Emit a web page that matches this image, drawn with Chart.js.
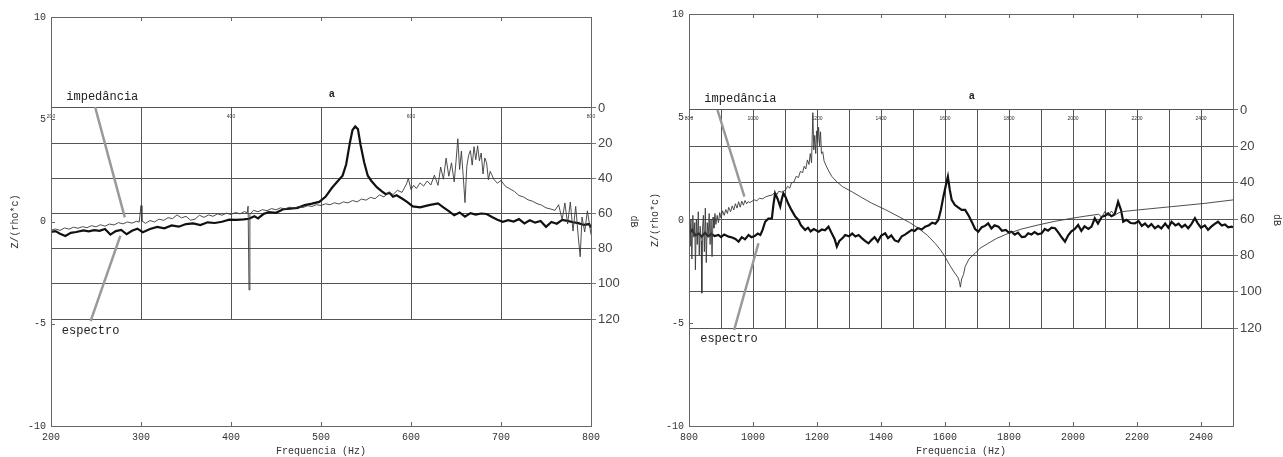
<!DOCTYPE html>
<html>
<head>
<meta charset="utf-8">
<script src="https://cdn.jsdelivr.net/npm/chart.js@4.4.1/dist/chart.umd.min.js"></script>
<style>
  html, body { margin: 0; padding: 0; background: #fff; }
  #wrap { position: relative; width: 1283px; height: 457px; }
  canvas { position: absolute; top: 0; }
</style>
</head>
<body>
<div id="wrap">
  <canvas id="left" width="640" height="457" style="left:0"></canvas>
  <canvas id="right" width="643" height="457" style="left:640px"></canvas>
</div>
<script>
// axis ticks
const zTicks = [-10, -5, 0, 5, 10];
const dbTicks = [0, 20, 40, 60, 80, 100, 120];
const leftFreqTicks = [200, 300, 400, 500, 600, 700, 800];
const leftInnerGrid = [300, 400, 500, 600, 700];
const leftInnerLabels = [200, 400, 600, 800];
const rightFreqTicks = [800, 1000, 1200, 1400, 1600, 1800, 2000, 2200, 2400];
const rightInnerGrid = [900, 1000, 1100, 1200, 1300, 1400, 1500, 1600, 1700, 1800, 1900, 2000, 2100, 2200, 2300, 2400];
const rightInnerLabels = [800, 1000, 1200, 1400, 1600, 1800, 2000, 2200, 2400];

// series: [Hz, dB]
const leftImpedance = [
  [200,69.5],[205,68.8],[210,69.6],[215,68.2],[220,68.9],[225,67.8],[230,68.4],[235,67.5],[240,68.1],[245,66.9],
  [250,67.6],[255,66.4],[260,67.2],[265,66.0],[270,66.5],[275,65.2],[280,65.9],[285,64.8],[290,65.5],[295,64.4],
  [298,64.9],[300,55.5],[301,64.2],[305,65.6],[310,64.0],[315,64.8],[320,63.2],[325,63.9],[330,62.4],[335,62.9],
  [340,60.8],[345,62.5],[350,61.6],[355,63.8],[360,63.2],[365,61.0],[370,62.2],[375,60.8],[380,61.6],[385,60.2],
  [390,61.0],[395,59.8],[400,60.6],[405,59.4],[410,60.2],[415,58.9],[418,59.6],[419,55.8],[420,103.5],[421,60.5],
  [425,58.2],[430,59.0],[435,57.8],[440,58.4],[445,57.2],[450,57.9],[455,56.8],[460,57.5],[465,56.4],[470,57.0],
  [475,56.0],[480,56.6],[485,55.6],[490,56.0],[495,55.0],[500,55.4],[505,54.5],[510,55.0],[515,53.9],[520,54.6],
  [525,53.4],[530,54.0],[535,52.6],[540,53.4],[545,51.8],[550,52.4],[555,50.8],[560,51.6],[565,49.4],[570,50.6],
  [575,47.8],[580,49.2],[585,46.8],[590,48.0],[595,43.2],[597,40.0],[600,46.4],[603,44.0],[606,45.8],[610,42.6],
  [614,44.4],[618,41.5],[622,43.8],[626,38.2],[630,44.0],[633,33.6],[636,40.5],[639,28.5],[642,38.8],[645,31.2],
  [648,42.0],[650,30.5],[652,17.5],[654,35.0],[656,24.5],[658,38.6],[660,53.8],[662,33.2],[664,27.0],[666,24.2],
  [668,32.5],[670,22.0],[672,29.4],[674,21.5],[676,30.0],[678,25.6],[680,37.5],[682,28.4],[684,31.2],[686,40.8],
  [688,36.0],[692,40.5],[696,42.8],[700,41.2],[705,44.6],[710,46.0],[715,47.5],[720,49.8],[725,50.6],[730,52.2],
  [735,53.0],[740,54.4],[745,55.2],[750,56.8],[755,57.4],[760,58.2],[764,55.0],[768,63.5],[771,54.0],[774,66.0],
  [777,53.5],[780,70.0],[783,56.0],[786,74.0],[788,84.6],[790,62.0],[793,70.5],[796,58.5],[800,72.0]
];
const leftSpectrum = [
  [200,70.5],[205,70],[210,71.5],[216,72.8],[222,71],[228,70.5],[236,69.6],[242,70.2],[248,69.5],[254,69.9],
  [260,68.8],[266,72],[272,70],[278,69.3],[284,71.8],[290,69.8],[296,68.6],[302,70.6],[310,68.8],[318,67.6],
  [326,68.4],[334,66.8],[342,67.5],[350,66],[358,65.6],[366,66.6],[374,65],[382,65.4],[390,64.7],[398,63.5],
  [406,63.6],[414,63.3],[420,63],[426,61.5],[430,62.8],[436,60.3],[442,59.2],[450,59.6],[458,57.6],[466,57.2],
  [474,56.8],[482,55.2],[490,54.4],[498,53.4],[505,50.5],[512,45.5],[518,42],[524,38.5],[528,32],[532,20],
  [535,12.5],[538,10.5],[541,12],[544,21],[548,31],[552,38.5],[556,41.5],[562,45],[568,47.5],[572,49],
  [576,48.2],[580,50.5],[584,49.6],[590,51.5],[596,53.5],[602,56],[610,56.5],[620,55.2],[630,54.2],[636,56.5],
  [642,58.6],[648,61],[654,59.4],[660,61.8],[666,59.8],[672,60.6],[678,60],[684,60.3],[690,62],[696,63.5],
  [702,64.7],[708,63.8],[714,64.6],[720,63.2],[726,65.6],[732,63.8],[738,65.2],[744,64.3],[750,67.6],[756,64.8],
  [762,65.8],[768,63.6],[774,64.2],[780,65],[786,65.5],[792,66.5],[798,66],[800,68]
];
const rightImpedance = [
  [800,62.4],[803,75],[806,60],[809,82],[812,58],[815,70],[818,62],[820,88],[823,60],[826,74],
  [829,56],[832,80],[835,64],[838,72],[840,100.8],[842,66],[845,58],[848,78],[851,54],[854,84],
  [857,62],[860,70],[863,57],[866,74],[869,60],[872,80.7],[875,59],[878,65],[881,57],[884,63],
  [888,58],[892,62],[896,56.5],[900,59.5],[905,55.5],[910,58],[915,54.8],[920,57],[924,53.6],[930,56],
  [935,52.8],[940,55],[945,51.6],[950,54],[955,50.5],[960,53.5],[965,50.2],[970,52.4],[975,49.8],[980,51.6],
  [985,50.4],[990,51],[997,50.2],[1005,49.5],[1012,50],[1020,48.6],[1030,48.9],[1040,47.8],[1050,47.2],[1060,46.8],
  [1069,45.2],[1075,46.5],[1080,44.8],[1090,45.2],[1101,44.2],[1108,42],[1115,43],[1120,40.2],[1128,39.6],[1135,36.5],
  [1142,37.2],[1148,33.8],[1155,34.5],[1160,31],[1165,32.5],[1170,27.5],[1175,30],[1179,24],[1183,29],[1187,1.5],
  [1190,22],[1193,14],[1196,24],[1199,11.5],[1202,18],[1205,9.5],[1208,20],[1211,12],[1214,24],[1218,23],
  [1222,28],[1228,30.5],[1235,33],[1246,36.5],[1260,39.2],[1280,42.2],[1309,45],[1340,48.2],[1370,51.2],[1413,54.8],
  [1450,58.2],[1490,62],[1517,65.1],[1545,69],[1569,73.4],[1585,76.8],[1600,80.7],[1615,85.5],[1631,89.9],[1640,92],
  [1645,94.5],[1648,97.5],[1652,93],[1658,90.5],[1663,86.2],[1675,82],[1694,78.9],[1710,76],[1735,73.4],[1760,70.8],
  [1798,67.9],[1840,65.5],[1891,63.3],[1940,61.4],[1996,59.6],[2040,58.4],[2080,57.4],[2090,59],[2100,55.8],[2110,58.2],
  [2120,55.6],[2130,57.8],[2150,56],[2204,55],[2308,53.2],[2412,51.4],[2500,49.5]
];
const rightSpectrum = [
  [800,67.9],[810,66],[820,69],[830,68],[840,69.7],[850,67.5],[860,69.5],[870,68.2],[880,69.4],[892,68.8],
  [900,69.9],[910,68.5],[924,69.7],[935,70.2],[945,71],[955,72.5],[965,70],[975,71.2],[986,68.8],[995,70],
  [1005,69.4],[1015,68],[1023,68.8],[1030,66],[1038,61.5],[1048,59.8],[1059,59.6],[1064,52],[1069,45.9],[1077,49],
  [1085,53.2],[1090,49],[1095,45.9],[1102,48],[1110,51.5],[1120,55],[1132,58.7],[1142,60.5],[1150,63.5],[1163,66],
  [1172,64.8],[1180,66.8],[1190,65.5],[1205,67],[1215,65.8],[1225,66.2],[1236,64.2],[1245,67.5],[1255,71],[1262,75.2],
  [1270,72],[1280,70.5],[1288,68.8],[1300,69.5],[1310,68],[1320,69.6],[1330,68.8],[1340,70.5],[1350,72],[1361,73.4],
  [1370,71.6],[1380,70],[1390,72.5],[1400,69.2],[1413,67.9],[1422,70.5],[1432,69],[1443,71.8],[1454,72.5],[1465,69.5],
  [1475,68.6],[1486,67.2],[1496,66],[1505,66.6],[1515,65],[1527,65.8],[1538,64.2],[1550,63.4],[1560,62],[1570,62.6],
  [1579,60.5],[1587,55],[1595,47.7],[1602,42],[1609,36.7],[1615,44],[1621,49.5],[1631,52.3],[1640,53.5],[1652,55],
  [1663,55],[1675,58.5],[1685,62],[1694,65.5],[1704,67],[1715,64.5],[1725,63.8],[1735,62.4],[1745,65.2],[1755,63.5],
  [1767,64.2],[1778,66.5],[1790,66],[1800,67.6],[1808,67],[1818,68.6],[1828,67.5],[1840,70],[1850,69.7],[1860,67.8],
  [1870,68.5],[1880,67.2],[1890,68.4],[1902,67.9],[1912,65.5],[1922,66.4],[1933,64.8],[1944,65.1],[1955,67.6],[1965,70.2],
  [1975,72.5],[1985,69],[1995,66.8],[2005,65.6],[2016,63.3],[2026,66.5],[2036,64],[2048,65.5],[2058,64.2],[2068,59.6],
  [2078,62.5],[2090,58.8],[2100,58.2],[2110,56.9],[2120,58.5],[2130,57.5],[2141,50.5],[2150,55],[2157,61.5],[2167,60.5],
  [2180,62.2],[2193,62.4],[2205,61.2],[2215,63.8],[2225,62.5],[2235,64.4],[2245,62.8],[2256,65.1],[2266,63.8],[2276,65.2],
  [2288,62.5],[2298,64.8],[2308,61.5],[2320,63.5],[2330,62.6],[2340,64.5],[2350,63.2],[2360,65.1],[2370,62.8],[2381,59.6],
  [2390,62.4],[2400,64.8],[2412,63.5],[2422,66],[2432,64.2],[2442,62.8],[2453,61.5],[2465,63.6],[2475,63],[2485,64.6],
  [2495,64.2],[2500,64.5]
];

const monoFont = '"Liberation Mono", "DejaVu Sans Mono", monospace';
const sansFont = '"Liberation Sans", Arial, sans-serif';

// frame, inner grid, tiny labels, annotations
const panelDecor = {
  id: 'panelDecor',
  beforeDatasetsDraw(chart, args, o) {
    const { ctx, scales: { x, y1 } } = chart;
    const top = y1.getPixelForValue(0), bot = y1.getPixelForValue(120);
    ctx.save();
    ctx.strokeStyle = '#555';
    ctx.lineWidth = 1;
    o.innerGrid.forEach(v => {
      const px = Math.round(x.getPixelForValue(v)) + 0.5;
      ctx.beginPath(); ctx.moveTo(px, top); ctx.lineTo(px, bot); ctx.stroke();
    });
    ctx.fillStyle = '#333';
    ctx.font = '5px ' + sansFont;
    ctx.textAlign = 'center';
    ctx.textBaseline = 'middle';
    o.innerLabels.forEach(v => ctx.fillText(String(v), x.getPixelForValue(v), y1.getPixelForValue(5)));
    ctx.restore();
  },
  afterDatasetsDraw(chart, args, o) {
    const { ctx, chartArea: a, scales: { x, y } } = chart;
    ctx.save();
    // outer frame
    ctx.strokeStyle = '#666';
    ctx.lineWidth = 1;
    ctx.strokeRect(Math.round(a.left) + 0.5, Math.round(a.top) + 0.5, Math.round(a.right - a.left), Math.round(a.bottom - a.top));
    // inward tick marks
    ctx.beginPath();
    o.outerTicks.forEach(v => {
      const px = Math.round(x.getPixelForValue(v)) + 0.5;
      ctx.moveTo(px, a.top); ctx.lineTo(px, a.top + 4);
      ctx.moveTo(px, a.bottom); ctx.lineTo(px, a.bottom - 4);
    });
    zTicks.forEach(v => {
      const py = Math.round(y.getPixelForValue(v)) + 0.5;
      ctx.moveTo(a.left, py); ctx.lineTo(a.left + 4, py);
    });
    ctx.stroke();
    // annotation pointers
    ctx.strokeStyle = '#999';
    ctx.lineWidth = 2.5;
    o.pointers.forEach(p => {
      ctx.beginPath();
      ctx.moveTo(x.getPixelForValue(p[0]), y.getPixelForValue(p[1]));
      ctx.lineTo(x.getPixelForValue(p[2]), y.getPixelForValue(p[3]));
      ctx.stroke();
    });
    ctx.fillStyle = '#222';
    ctx.textAlign = 'left';
    ctx.textBaseline = 'middle';
    ctx.font = '12px ' + monoFont;
    o.labels.forEach(l => ctx.fillText(l.text, x.getPixelForValue(l.hz), y.getPixelForValue(l.z)));
    ctx.font = 'bold 10px ' + sansFont;
    ctx.fillText('a', x.getPixelForValue(o.mark[0]), y.getPixelForValue(o.mark[1]));
    ctx.restore();
  }
};

function makePanel(id, cfg) {
  const tickFont = { family: monoFont, size: 10 };
  new Chart(document.getElementById(id), {
    type: 'line',
    data: {
      datasets: [
        {
          label: 'impedância',
          data: cfg.impedance.map(([hz, db]) => ({ x: hz, y: db })),
          yAxisID: 'y1',
          borderColor: '#3a3a3a',
          borderWidth: 0.9,
          pointRadius: 0,
          tension: 0
        },
        {
          label: 'espectro',
          data: cfg.spectrum.map(([hz, db]) => ({ x: hz, y: db })),
          yAxisID: 'y1',
          borderColor: '#111',
          borderWidth: 2.2,
          pointRadius: 0,
          tension: 0
        }
      ]
    },
    options: {
      responsive: false,
      devicePixelRatio: 1,
      animation: false,
      layout: { padding: { top: cfg.top, left: 0, right: 0, bottom: 0 } },
      plugins: {
        legend: { display: false },
        tooltip: { enabled: false },
        panelDecor: {
          innerGrid: cfg.innerGrid,
          innerLabels: cfg.innerLabels,
          outerTicks: cfg.outerTicks,
          pointers: cfg.pointers,
          labels: cfg.labels,
          mark: cfg.mark
        }
      },
      scales: {
        x: {
          type: 'linear',
          position: 'bottom',
          min: cfg.xMin,
          max: cfg.xMax,
          afterBuildTicks: s => { s.ticks = cfg.freqTicks.map(v => ({ value: v })); },
          afterFit: s => { s.height = 31; },
          grid: { display: false, drawTicks: false },
          border: { display: false },
          ticks: { font: tickFont, color: '#333', padding: 5, maxRotation: 0, callback: v => String(v) },
          title: { display: true, text: 'Frequencia (Hz)', font: tickFont, color: '#333', padding: { top: 0, bottom: 0 } }
        },
        y: {
          type: 'linear',
          position: 'left',
          min: -10,
          max: 10,
          afterBuildTicks: s => { s.ticks = zTicks.map(v => ({ value: v })); },
          afterFit: s => { s.width = cfg.leftWidth; },
          grid: { display: false, drawTicks: false },
          border: { display: false },
          ticks: { font: tickFont, color: '#333', padding: 5, callback: v => String(v) },
          title: { display: true, text: 'Z/(rho*c)', font: tickFont, color: '#333', padding: { top: 9, bottom: 0 } }
        },
        y1: {
          type: 'linear',
          position: 'right',
          reverse: true,
          min: cfg.dbMin,
          max: cfg.dbMax,
          afterBuildTicks: s => { s.ticks = dbTicks.map(v => ({ value: v })); },
          afterFit: s => { s.width = cfg.rightWidth; },
          grid: { drawOnChartArea: true, color: '#555', tickColor: '#777', drawTicks: true, tickLength: 5 },
          border: { display: false },
          ticks: { font: { family: sansFont, size: 13 }, color: '#444', padding: 2, callback: v => String(v) },
          title: { display: true, text: 'dB', font: tickFont, color: '#333', padding: { top: 0, bottom: 0 } }
        }
      }
    },
    plugins: [panelDecor]
  });
}

makePanel('left', {
  impedance: leftImpedance,
  spectrum: leftSpectrum,
  xMin: 200, xMax: 800,
  freqTicks: leftFreqTicks,
  outerTicks: leftInnerGrid,
  innerGrid: leftInnerGrid,
  innerLabels: leftInnerLabels,
  dbMin: -51.75, dbMax: 180.85,
  top: 17, leftWidth: 51, rightWidth: 49,
  pointers: [[249, 5.6, 282, 0.2], [244, -4.87, 277, -0.7]],
  labels: [{ text: 'impedância', hz: 217, z: 6.1 }, { text: 'espectro', hz: 212, z: -5.35 }],
  mark: [509, 6.23]
});

makePanel('right', {
  impedance: rightImpedance,
  spectrum: rightSpectrum,
  xMin: 800, xMax: 2500,
  freqTicks: rightFreqTicks,
  outerTicks: rightFreqTicks.slice(1),
  innerGrid: rightInnerGrid,
  innerLabels: rightInnerLabels,
  dbMin: -52.8, dbMax: 173.9,
  top: 14, leftWidth: 49, rightWidth: 50,
  pointers: [[889, 5.34, 973, 1.13], [941, -5.34, 1017, -1.13]],
  labels: [{ text: 'impedância', hz: 848, z: 5.86 }, { text: 'espectro', hz: 835, z: -5.79 }],
  mark: [1675, 6.02]
});
</script>
</body>
</html>
